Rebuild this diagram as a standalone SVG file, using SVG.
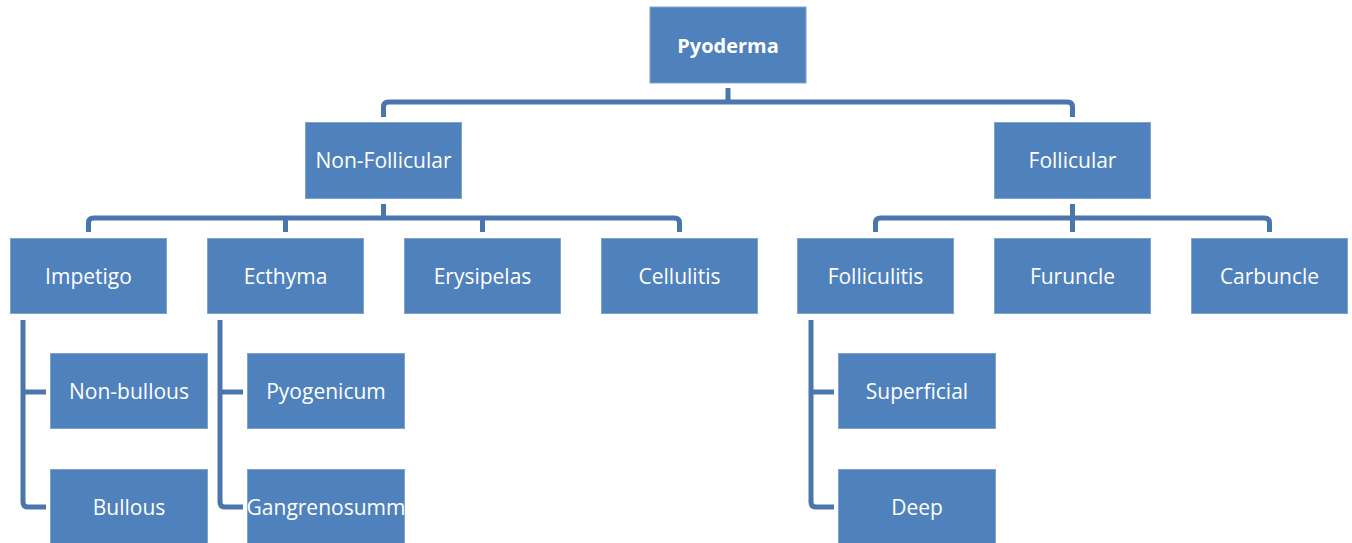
<svg xmlns="http://www.w3.org/2000/svg" width="1352" height="543" viewBox="0 0 1352 543">
<style>
.box{fill:#4F81BD;stroke:#7FA3CF;stroke-width:1}
.t{font-family:"Open Sans","Liberation Sans",sans-serif;font-size:21px;fill:#FFFFFF;text-anchor:middle;dominant-baseline:central}
.b{font-weight:bold;font-size:20px}
.c{fill:none;stroke:#4A76AC;stroke-width:5;stroke-linejoin:round}
</style>
<rect width="1352" height="543" fill="#FFFFFF"/>
<g id="connectors">
<path class="c" d="M728 88 V102"/>
<path class="c" d="M383.5 117 V107 Q383.5 102 388.5 102 H1067.5 Q1072.5 102 1072.5 107 V117"/>
<path class="c" d="M383.5 204 V218"/>
<path class="c" d="M88.5 232 V223 Q88.5 218 93.5 218 H674.5 Q679.5 218 679.5 223 V232"/>
<path class="c" d="M285.5 218 V232 M482.5 218 V232"/>
<path class="c" d="M1072.5 204 V232"/>
<path class="c" d="M875.5 232 V223 Q875.5 218 880.5 218 H1264.5 Q1269.5 218 1269.5 223 V232"/>
<path class="c" d="M23 320 V502 Q23 507 28 507 H46 M23 392 H46"/>
<path class="c" d="M220 320 V502 Q220 507 225 507 H243 M220 392 H243"/>
<path class="c" d="M811 320 V502 Q811 507 816 507 H834 M811 392 H834"/>
</g>
<g id="n-pyoderma"><rect class="box" x="650" y="7" width="156" height="76"/><text class="t b" x="728" y="45">Pyoderma</text></g>
<g id="n-nonfollicular"><rect class="box" x="305.5" y="122.5" width="156" height="76"/><text class="t" x="383.5" y="160">Non-Follicular</text></g>
<g id="n-follicular"><rect class="box" x="994.5" y="122.5" width="156" height="76"/><text class="t" x="1072.5" y="160">Follicular</text></g>
<g id="n-impetigo"><rect class="box" x="10.5" y="238.5" width="156" height="75"/><text class="t" x="88.5" y="276">Impetigo</text></g>
<g id="n-ecthyma"><rect class="box" x="207.5" y="238.5" width="156" height="75"/><text class="t" x="285.5" y="276">Ecthyma</text></g>
<g id="n-erysipelas"><rect class="box" x="404.5" y="238.5" width="156" height="75"/><text class="t" x="482.5" y="276">Erysipelas</text></g>
<g id="n-cellulitis"><rect class="box" x="601.5" y="238.5" width="156" height="75"/><text class="t" x="679.5" y="276">Cellulitis</text></g>
<g id="n-folliculitis"><rect class="box" x="797.5" y="238.5" width="156" height="75"/><text class="t" x="875.5" y="276">Folliculitis</text></g>
<g id="n-furuncle"><rect class="box" x="994.5" y="238.5" width="156" height="75"/><text class="t" x="1072.5" y="276">Furuncle</text></g>
<g id="n-carbuncle"><rect class="box" x="1191.5" y="238.5" width="156" height="75"/><text class="t" x="1269.5" y="276">Carbuncle</text></g>
<g id="n-nonbullous"><rect class="box" x="50.5" y="353.5" width="157" height="75"/><text class="t" x="129" y="391">Non-bullous</text></g>
<g id="n-bullous"><rect class="box" x="50.5" y="469.5" width="157" height="76"/><text class="t" x="129" y="507">Bullous</text></g>
<g id="n-pyogenicum"><rect class="box" x="247.5" y="353.5" width="157" height="75"/><text class="t" x="326" y="391">Pyogenicum</text></g>
<g id="n-gangrenosumm"><rect class="box" x="247.5" y="469.5" width="157" height="76"/><text class="t" x="326" y="507">Gangrenosumm</text></g>
<g id="n-superficial"><rect class="box" x="838.5" y="353.5" width="157" height="75"/><text class="t" x="917" y="391">Superficial</text></g>
<g id="n-deep"><rect class="box" x="838.5" y="469.5" width="157" height="76"/><text class="t" x="917" y="507">Deep</text></g>
</svg>
